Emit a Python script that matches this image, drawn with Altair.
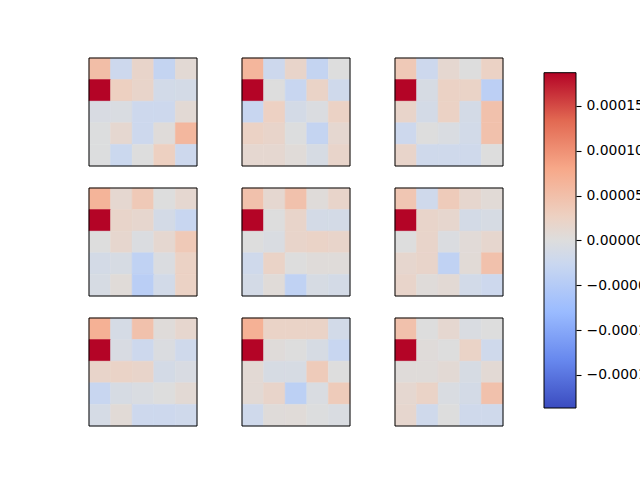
import altair as alt
import pandas as pd

# colour range of the shared colour bar
vmin, vmax = -0.000187, 0.000187

# 5x5 cell values of the nine panels, in units of 1e-5 (row by row)
p1 = [[5.2, -2.2, 1.9, -3.2, 0.9],
      [19.0, 2.8, 1.9, -1.5, -1.3],
      [-0.7, -0.6, -2.2, -2.2, 0.9],
      [-0.2, 1.3, -2.2, 0.4, 6.0],
      [-0.2, -2.4, 0.0, 2.8, -2.2]]
p2 = [[6.2, -2.2, 1.9, -3.2, 0.0],
      [19.0, 0.0, -2.8, 2.2, -1.9],
      [-2.8, 2.6, -1.3, -0.4, 2.4],
      [2.4, 1.9, -0.2, -3.2, 1.3],
      [1.3, 1.3, 0.5, -0.9, 1.9]]
p3 = [[3.7, -2.2, 1.3, 0.0, 2.4],
      [19.0, -0.9, 2.4, 2.2, -4.2],
      [1.9, -1.3, 2.4, -1.3, 4.7],
      [-2.2, 0.0, -0.6, -1.5, 4.7],
      [1.9, -1.9, -1.9, -1.9, 0.0]]
p4 = [[6.5, 1.3, 3.7, 0.0, 1.3],
      [19.0, 1.9, 1.5, -1.3, -2.8],
      [0.0, 1.5, -0.4, 1.3, 3.7],
      [-1.3, -0.9, -3.7, -0.4, 2.4],
      [-0.9, 0.5, -4.4, -1.5, 2.4]]
p5 = [[4.7, 1.3, 4.7, 0.4, 1.9],
      [19.0, 0.0, 1.9, -1.3, -1.3],
      [0.0, -0.6, 1.9, 2.2, 1.9],
      [-1.9, 2.2, 0.0, 0.4, 0.4],
      [-1.3, 0.5, -3.7, -0.9, -1.3]]
p6 = [[4.1, -1.9, 3.4, 1.5, 0.7],
      [19.0, 1.9, 1.5, -1.3, -0.9],
      [0.0, 1.9, -0.4, 0.6, 1.5],
      [1.5, 1.9, -3.7, 0.7, 4.7],
      [1.9, 0.4, 0.9, -1.5, -2.2]]
p7 = [[6.9, -1.1, 4.7, 0.4, 1.5],
      [19.0, -0.7, -2.2, -0.4, -1.9],
      [1.9, 2.2, 1.9, -1.3, -0.7],
      [-2.8, -0.9, -0.6, 0.0, 0.9],
      [-1.1, 0.7, -2.2, -2.2, -1.9]]
p8 = [[6.9, 2.2, 2.2, 2.2, -1.5],
      [19.0, 0.4, 0.0, -0.9, -2.8],
      [0.9, -0.9, -0.9, 3.4, 0.0],
      [0.9, 1.9, -4.1, -0.6, 3.4],
      [-1.9, 0.4, 0.5, -0.2, -0.6]]
p9 = [[4.7, 0.0, 1.3, -0.6, 0.0],
      [19.0, 0.4, 0.0, 2.2, -1.9],
      [0.4, 0.4, 0.9, -0.9, 0.9],
      [1.3, 2.2, -0.6, -1.3, 4.7],
      [1.5, -1.9, 0.0, -1.9, -1.9]]
panels = [p1, p2, p3, p4, p5, p6, p7, p8, p9]

# coolwarm colour map stops
cmap_colors = ["#3b4cc0", "#6788ee", "#9abbff", "#c9d7f0", "#dddddd",
               "#edd1c2", "#f7a889", "#e26952", "#b40426"]
cmap_pos = [0, 1 / 7, 2 / 7, 3 / 7, 0.5, 4 / 7, 5 / 7, 6 / 7, 1]
cbar_ticks = [-0.00015, -0.0001, -0.00005, 0.0, 0.00005, 0.0001, 0.00015]

color_scale = alt.Scale(domain=[vmin + t * (vmax - vmin) for t in cmap_pos],
                        range=cmap_colors, interpolate="rgb", clamp=True)


def heat(m):
    rows = [{"r": i, "c": j, "v": m[i][j] * 1e-5} for i in range(5) for j in range(5)]
    cells = alt.Chart(pd.DataFrame(rows)).mark_rect(strokeWidth=0.6).encode(
        x=alt.X("c:O", axis=None, scale=alt.Scale(paddingInner=0, paddingOuter=0)),
        y=alt.Y("r:O", axis=None, scale=alt.Scale(paddingInner=0, paddingOuter=0)),
        color=alt.Color("v:Q", scale=color_scale, legend=None),
        stroke=alt.Stroke("v:Q", scale=color_scale, legend=None),
    )
    frame = alt.Chart(alt.Data(values=[{"f": 1}])).mark_rect(
        filled=False, stroke="black", strokeWidth=1
    ).encode(x=alt.value(0), x2=alt.value("width"), y=alt.value(0), y2=alt.value("height"))
    return alt.layer(cells, frame).properties(width=108, height=108)


grid = alt.vconcat(
    alt.hconcat(*[heat(p) for p in panels[0:3]], spacing=43),
    alt.hconcat(*[heat(p) for p in panels[3:6]], spacing=43),
    alt.hconcat(*[heat(p) for p in panels[6:9]], spacing=43),
    spacing=20,
)

# colour bar: one gradient rect spanning vmin..vmax
k = (vmax - vmin) / 335.3
y_dom = [vmin - 18 * k, vmax + 14.7 * k]
cb_df = pd.DataFrame({"lo": [vmin], "hi": [vmax]})
grad = alt.LinearGradient(
    gradient="linear",
    stops=[alt.GradientStop(color=c, offset=o) for c, o in zip(cmap_colors, cmap_pos)],
    x1=0, x2=0, y1=1, y2=0,
)
cbar = alt.Chart(cb_df).mark_rect(fill=grad, stroke="black", strokeWidth=1).encode(
    x=alt.value(0),
    x2=alt.value(32),
    y=alt.Y("lo:Q", scale=alt.Scale(domain=y_dom, nice=False, zero=False),
            axis=alt.Axis(orient="right", values=cbar_ticks, format=".5f", title=None,
                          domain=False, grid=False)),
    y2="hi:Q",
).properties(width=32, height=368)

chart = alt.hconcat(
    grid, cbar, spacing=39,
    padding={"left": 89, "top": 58, "right": 551, "bottom": 422},
    autosize=alt.AutoSizeParams(type="none"),
    background="white",
).configure_view(
    stroke="transparent"
).configure_axis(
    labelFont="DejaVu Sans", labelFontSize=13.9, labelColor="black",
    tickColor="black", tickSize=5, tickWidth=1.1, labelPadding=5,
)

chart.save("out.html", embed_options={"renderer": "svg", "actions": False})
